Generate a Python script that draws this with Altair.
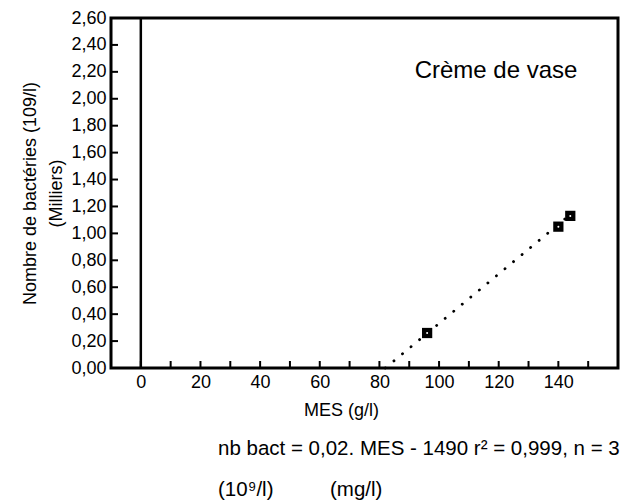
import altair as alt
import pandas as pd

# Data
mes = [96, 140, 144]                 # MES (g/l)
bact = [0.26, 1.05, 1.13]            # Nombre de bactéries (10^9/l, milliers)
fit_x = [82, 144]                    # regression line ends (MES)
fit_y = [0.0, 1.14]
vline_x = [0]
x_ticks = [0, 10, 20, 30, 40, 50, 60, 70, 80, 90, 100, 110, 120, 130, 140, 150]
x_labels = [0, 20, 40, 60, 80, 100, 120, 140]
y_ticks = [0.0, 0.2, 0.4, 0.6, 0.8, 1.0, 1.2, 1.4, 1.6, 1.8, 2.0, 2.2, 2.4, 2.6]

FONT = "Liberation Sans"
W, H = 507, 350

pts = pd.DataFrame({"mes": mes, "bact": bact})
fit = pd.DataFrame({"mes": fit_x, "bact": fit_y})
vl = pd.DataFrame({"mes": vline_x})
xt = pd.DataFrame({"mes": x_ticks})
yt = pd.DataFrame({"bact": y_ticks})

xscale = alt.Scale(domain=[-10, 160], nice=False, zero=False)
yscale = alt.Scale(domain=[0, 2.6], nice=False)

xaxis = alt.Axis(values=x_labels, grid=False, domain=False, ticks=False,
                 labelFont=FONT, labelFontSize=18, labelColor="black", labelPadding=5,
                 labelOverlap=False, labelFlush=False,
                 title="MES (g/l)", titleFont=FONT, titleFontSize=18, titleFontWeight="normal",
                 titleColor="black", titleX=230, titleY=47, titleBaseline="alphabetic")
yaxis = alt.Axis(values=y_ticks, grid=False, domain=False, ticks=False,
                 labelExpr="replace(format(datum.value, '.2f'), '.', ',')",
                 labelFont=FONT, labelFontSize=18, labelColor="black", labelPadding=5,
                 labelOverlap=False, labelFlush=False, labelBound=False,
                 title=["Nombre de bactéries (109/l)", "(Milliers)"],
                 titleFont=FONT, titleFontSize=18, titleFontWeight="normal", titleColor="black",
                 titleAngle=270, titleX=-81, titleY=175, titleBaseline="middle", titleLineHeight=26)

X = alt.X("mes:Q", scale=xscale, axis=xaxis)
Y = alt.Y("bact:Q", scale=yscale, axis=yaxis)

line = alt.Chart(fit).mark_line(color="black", strokeWidth=2.8, strokeDash=[0.1, 11],
                                strokeCap="round").encode(x=X, y=Y)
squares = alt.Chart(pts).mark_square(color="black", size=105, opacity=1).encode(x=X, y=Y)
centers = alt.Chart(pts).mark_point(color="white", filled=True, size=4, opacity=1).encode(x=X, y=Y)
vrule = alt.Chart(vl).mark_rule(color="black", strokeWidth=2.5).encode(x=X)
xticks = alt.Chart(xt).mark_rule(color="black", strokeWidth=2).encode(
    x=X, y=alt.value(H), y2=alt.value(H - 7))
yticks = alt.Chart(yt).mark_rule(color="black", strokeWidth=2).encode(
    y=Y, x=alt.value(0), x2=alt.value(7))

label_df = pd.DataFrame({"t": ["Crème de vase"]})
label = alt.Chart(label_df).mark_text(font=FONT, fontSize=24, color="black", align="center",
                                      baseline="alphabetic").encode(
    text="t:N", x=alt.value(385), y=alt.value(60))

eq_df = pd.DataFrame({"t": ["nb bact = 0,02. MES - 1490  r² = 0,999, n = 3"]})
eq = alt.Chart(eq_df).mark_text(font=FONT, fontSize=20.5, color="black", align="left",
                                baseline="alphabetic").encode(
    text="t:N", x=alt.value(107), y=alt.value(437))
u1 = alt.Chart(pd.DataFrame({"t": ["(10⁹/l)"]})).mark_text(
    font=FONT, fontSize=20.5, color="black", align="left", baseline="alphabetic").encode(
    text="t:N", x=alt.value(107), y=alt.value(478))
u2 = alt.Chart(pd.DataFrame({"t": ["(mg/l)"]})).mark_text(
    font=FONT, fontSize=20.5, color="black", align="left", baseline="alphabetic").encode(
    text="t:N", x=alt.value(219), y=alt.value(478))

chart = alt.layer(line, vrule, xticks, yticks, squares, centers, label, eq, u1, u2).properties(
    width=W, height=H,
    autosize=alt.AutoSizeParams(type="none"),
    padding={"left": 111, "top": 18, "right": 15, "bottom": 133},
    background="white",
).configure_view(stroke="black", strokeWidth=3)

chart.save("out.html", embed_options={"renderer": "svg", "actions": False})
